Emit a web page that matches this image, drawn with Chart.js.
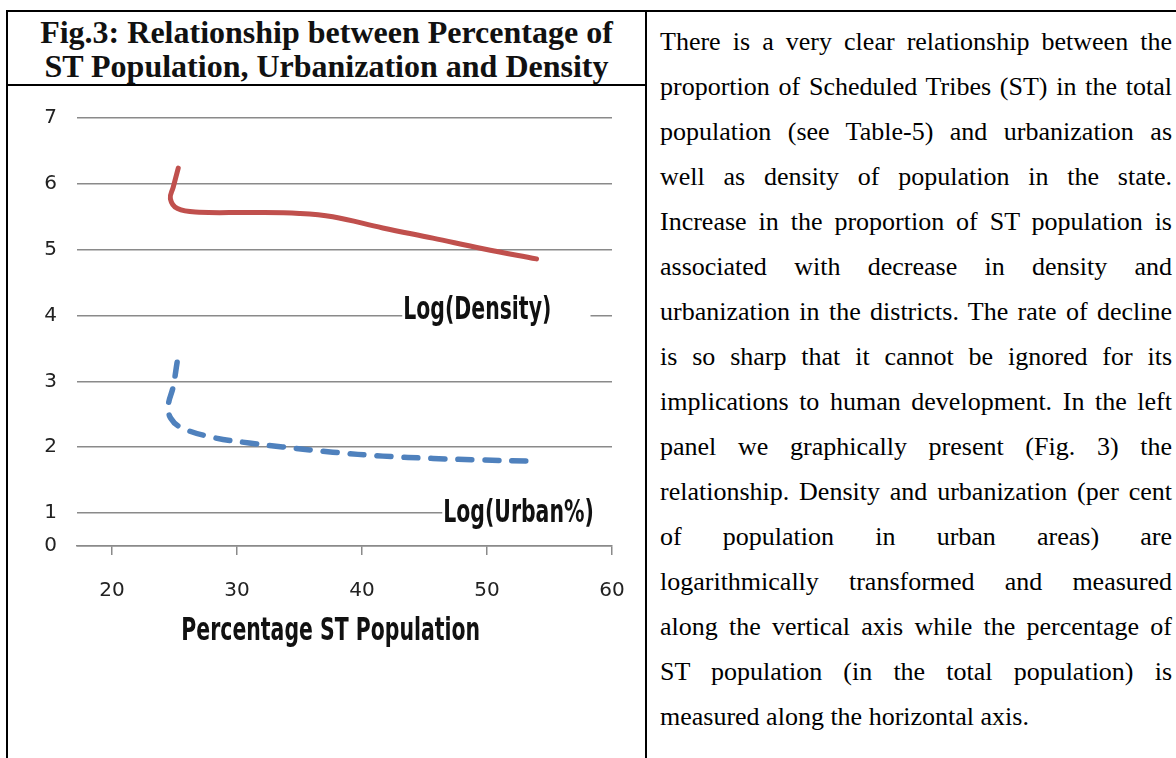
<!DOCTYPE html>
<html>
<head>
<meta charset="utf-8">
<script src="https://cdn.jsdelivr.net/npm/chart.js@4.4.1/dist/chart.umd.min.js"></script>
<style>
  body { margin: 0; background: #fff; width: 1176px; height: 758px; overflow: hidden; position: relative; font-family: 'Liberation Serif', 'Times New Roman', serif; color: #000; }
  .rule { position: absolute; background: #000; }
  #title { position: absolute; left: 8px; top: 15px; width: 637px; text-align: center; font-weight: bold; font-size: 32px; line-height: 34px; color: #111; }
  #chartBox { position: absolute; left: 8px; top: 86px; width: 636px; height: 670px; }
  #text { position: absolute; left: 660px; top: 19px; width: 512px; font-size: 26px; line-height: 45px; }
  #text div { text-align: justify; text-align-last: justify; }
  #text div.last { text-align-last: left; }
</style>
</head>
<body>
<div class="rule" style="left:6px;top:10px;width:1170px;height:2px"></div>
<div class="rule" style="left:6px;top:10px;width:2px;height:748px"></div>
<div class="rule" style="left:645px;top:10px;width:2px;height:748px"></div>
<div class="rule" style="left:6px;top:84px;width:640px;height:2px"></div>

<div id="title">Fig.3: Relationship between Percentage of<br>ST Population, Urbanization and Density</div>

<div id="chartBox"><canvas id="chart" width="636" height="670"></canvas></div>

<div id="text">
  <div>There is a very clear relationship between the</div>
  <div>proportion of Scheduled Tribes (ST) in the total</div>
  <div>population (see Table-5) and urbanization as</div>
  <div>well as density of population in the state.</div>
  <div>Increase in the proportion of ST population is</div>
  <div>associated with decrease in density and</div>
  <div>urbanization in the districts. The rate of decline</div>
  <div>is so sharp that it cannot be ignored for its</div>
  <div>implications to human development. In the left</div>
  <div>panel we graphically present (Fig. 3) the</div>
  <div>relationship. Density and urbanization (per cent</div>
  <div>of population in urban areas) are</div>
  <div>logarithmically transformed and measured</div>
  <div>along the vertical axis while the percentage of</div>
  <div>ST population (in the total population) is</div>
  <div class="last">measured along the horizontal axis.</div>
</div>

<script>
// percentage ST population (x) vs log values (y)
const densityX = [25.3, 24.9, 24.67, 25.24, 26.97, 30.98, 34.99, 37.66, 41.66, 45.67, 49.68, 53.96];
const densityY = [6.24, 5.95, 5.775, 5.625, 5.57, 5.565, 5.55, 5.5, 5.33, 5.175, 5.015, 4.86];

const urbanX = [25.21, 24.89, 24.51, 24.7, 25.63, 28.3, 30.98, 33.65, 37.66, 41.67, 45.68, 49.69, 53.16];
const urbanY = [3.29, 2.915, 2.64, 2.44, 2.29, 2.14, 2.065, 2.005, 1.925, 1.865, 1.83, 1.805, 1.79];

const xTicks = [20, 30, 40, 50, 60];
const yTicks = [0.5, 1, 2, 3, 4, 5, 6, 7];
const yTickLabels = ['0', '1', '2', '3', '4', '5', '6', '7'];

const seriesNames = ['Log(Density)', 'Log(Urban%)'];
const axisTitle = 'Percentage ST Population';

// where the in-chart labels sit (data units)
const labelSpots = [
  { x: 43.3, y: 3.94, boxEnd: 58.2, line: 4 },
  { x: 46.5, y: 0.86, boxEnd: 60, line: 1 }
];

const gridColor = '#8a8a8a';
const labelFont = "bold 32px 'DejaVu Sans Condensed', 'DejaVu Sans', sans-serif";
const squeeze = 0.71; // the original label face is much narrower

function toPoints(xs, ys) {
  return xs.map((x, i) => ({ x: x, y: ys[i] }));
}

function narrowText(c, str, x, y) {
  c.save();
  c.translate(x, y);
  c.scale(squeeze, 1);
  c.fillText(str, 0, 0);
  c.restore();
}

const textPlugin = {
  id: 'seriesText',
  afterDraw(chart) {
    const c = chart.ctx;
    const xs = chart.scales.x, ys = chart.scales.y;
    c.save();
    c.font = labelFont;
    c.textBaseline = 'alphabetic';
    c.textAlign = 'left';
    labelSpots.forEach((s, i) => {
      const px = xs.getPixelForValue(s.x);
      const lineY = ys.getPixelForValue(s.line);
      c.fillStyle = '#fff';
      c.fillRect(px - 1, lineY - 3, xs.getPixelForValue(s.boxEnd) - px + 2, 6);
      c.fillStyle = '#111';
      narrowText(c, seriesNames[i], px, ys.getPixelForValue(s.y));
    });
    // x axis title
    c.textAlign = 'center';
    c.fillStyle = '#111';
    narrowText(c, axisTitle, xs.getPixelForValue(37.5), ys.bottom + 94);
    c.restore();
  }
};

new Chart(document.getElementById('chart').getContext('2d'), {
  type: 'scatter',
  data: {
    datasets: [{
      label: seriesNames[0],
      data: toPoints(densityX, densityY),
      showLine: true,
      borderColor: '#C0504D',
      borderWidth: 5,
      pointRadius: 0,
      tension: 0.4,
      borderCapStyle: 'round',
      borderJoinStyle: 'round'
    }, {
      label: seriesNames[1],
      data: toPoints(urbanX, urbanY),
      showLine: true,
      borderColor: '#4F81BD',
      borderWidth: 5.5,
      borderDash: [14, 13],
      pointRadius: 0,
      tension: 0.4,
      borderCapStyle: 'round',
      borderJoinStyle: 'round'
    }]
  },
  options: {
    responsive: false,
    animation: false,
    layout: { padding: { left: 0, right: 32, top: 27, bottom: 0 } },
    plugins: { legend: { display: false }, tooltip: { enabled: false } },
    scales: {
      x: {
        type: 'linear',
        min: 17.2,
        max: 60,
        afterBuildTicks: s => { s.ticks = xTicks.map(v => ({ value: v })); },
        afterFit: s => { s.height = 210; s.paddingLeft = 0; s.paddingRight = 0; },
        grid: { drawOnChartArea: false, drawTicks: true, tickLength: 9, color: gridColor, lineWidth: 1.5 },
        border: { display: true, color: gridColor, width: 1.5 },
        ticks: { padding: 24, color: '#222', font: { family: 'DejaVu Sans', size: 20 }, maxRotation: 0, autoSkip: false }
      },
      y: {
        type: 'linear',
        min: 0.5,
        max: 7,
        afterBuildTicks: s => { s.ticks = yTicks.map(v => ({ value: v })); },
        afterFit: s => { s.width = 69; },
        grid: { drawTicks: false, color: gridColor, lineWidth: 1.5 },
        border: { display: false },
        ticks: {
          padding: 20,
          color: '#222',
          font: { family: 'DejaVu Sans', size: 20 },
          callback: (v) => yTickLabels[yTicks.indexOf(v)]
        }
      }
    }
  },
  plugins: [textPlugin]
});
</script>
</body>
</html>
